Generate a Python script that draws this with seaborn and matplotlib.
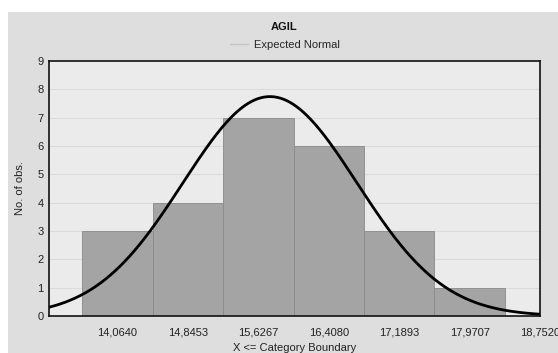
import matplotlib
matplotlib.use("Agg")
import matplotlib.pyplot as plt
from matplotlib.lines import Line2D
from matplotlib.patches import Rectangle
import numpy as np
import pandas as pd
import seaborn as sns

# category boundaries (upper limits) and counts per category
boundaries = [14.0640, 14.8453, 15.6267, 16.4080, 17.1893, 17.9707]
counts = [3, 4, 7, 6, 3, 1]
tick_values = boundaries + [18.7520]
tick_labels = ["14,0640", "14,8453", "15,6267", "16,4080", "17,1893", "17,9707", "18,7520"]

# expected normal parameters
mean_val = 15.755
sd_val = 0.966

bin_w = boundaries[1] - boundaries[0]
n_obs = sum(counts)

sns.set_style("white")
plt.rcParams['font.family'] = ['Liberation Sans', 'DejaVu Sans']

fig = plt.figure(figsize=(5.58, 3.53), dpi=100)
fig.patch.set_facecolor("white")
fig.patches.append(Rectangle((8 / 558, 0), 1, 1 - 12 / 353, transform=fig.transFigure,
                             facecolor="#dedede", edgecolor="none", zorder=-10))

ax = fig.add_axes([49 / 558, 1 - 316 / 353, (540 - 49) / 558, (316 - 61) / 353])
ax.set_facecolor("#ebebeb")

df = pd.DataFrame({"bound": boundaries, "n": counts})
edges = [b - bin_w / 2 for b in boundaries] + [boundaries[-1] + bin_w / 2]
sns.histplot(data=df, x="bound", weights="n", bins=edges, ax=ax,
             color="#a4a4a4", alpha=1, edgecolor="#8a8a8a", linewidth=0.6, zorder=2)

xmin, xmax = 13.303, 18.752
xs = np.linspace(xmin, xmax, 300)
ys = n_obs * bin_w / (sd_val * np.sqrt(2 * np.pi)) * np.exp(-0.5 * ((xs - mean_val) / sd_val) ** 2)
sns.lineplot(x=xs, y=ys, ax=ax, color="black", linewidth=2, zorder=3)

ax.set_xlim(xmin, xmax)
ax.set_ylim(0, 9)
ax.set_yticks(range(10))
ax.set_xticks(tick_values)
ax.set_xticklabels(tick_labels)
ax.tick_params(axis="both", length=0, labelsize=8, colors="#222222", pad=4)
ax.tick_params(axis="x", pad=8)
for y in range(1, 9):
    ax.axhline(y, color="#dadada", linewidth=0.8, zorder=1)

for sp in ax.spines.values():
    sp.set_visible(True)
    sp.set_color("#111111")
    sp.set_linewidth(1.2)

ax.set_xlabel("X <= Category Boundary", fontsize=8, labelpad=4, color="#222222")
ax.set_ylabel("No. of obs.", fontsize=8, labelpad=9, color="#222222")

fig.text(284 / 558, 1 - 27 / 353, "AGIL", ha="center", va="center",
         fontsize=8, fontweight="bold", color="#111111")
handle = Line2D([], [], color="#c4c4c4", linewidth=1)
fig.legend([handle], ["Expected Normal"], loc="center",
           bbox_to_anchor=(285 / 558, 1 - 45 / 353), frameon=False, fontsize=8,
           handlelength=1.6, handletextpad=0.5)

fig.savefig("out.png", dpi=100)
